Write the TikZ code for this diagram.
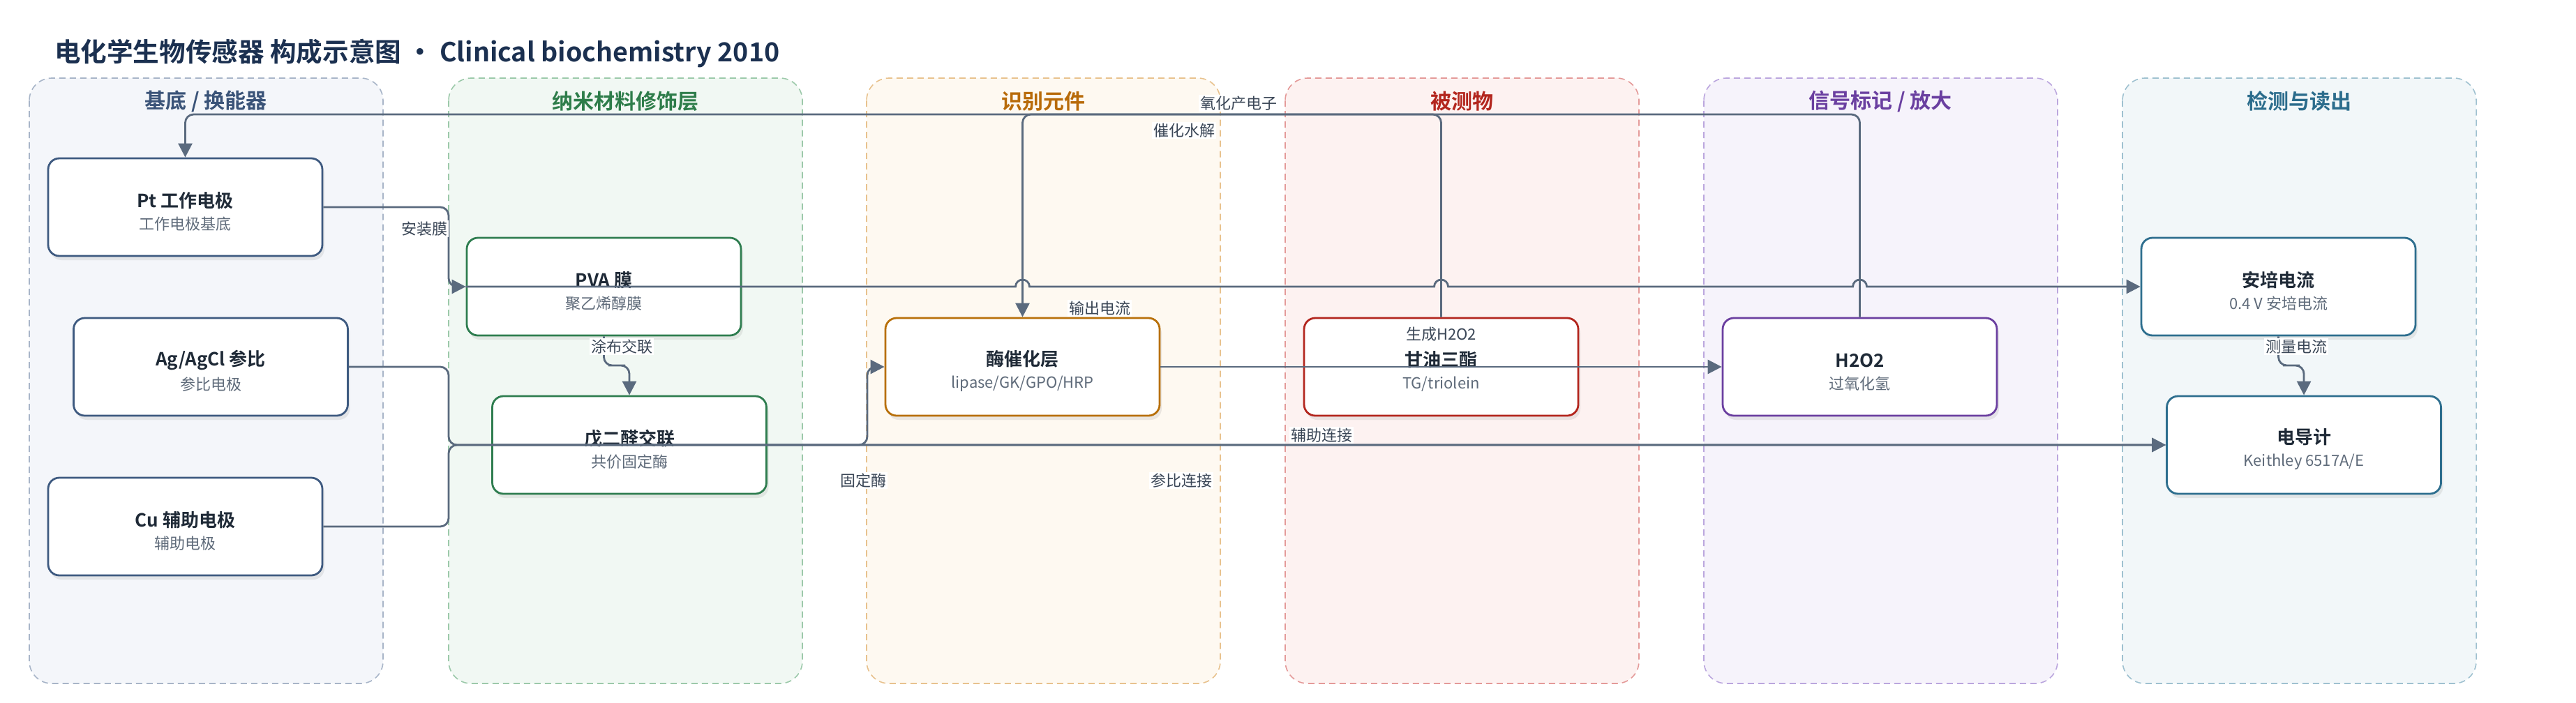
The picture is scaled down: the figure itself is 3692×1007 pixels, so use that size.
\documentclass[tikz,border=0pt]{standalone}
\usepackage{fontspec}
\setmainfont{Noto Sans CJK SC}[BoldFont={Noto Sans CJK SC Bold}]
\usetikzlibrary{arrows.meta,shadows}

\definecolor{ink}{HTML}{1B3050}
\definecolor{ttl}{HTML}{1F2A37}
\definecolor{sub}{HTML}{5F6B7A}
\definecolor{lblc}{HTML}{3A4656}
\definecolor{edgec}{HTML}{5A6A7E}
% lane fill / border / title
\definecolor{lf1}{HTML}{F4F6FA}\definecolor{ld1}{HTML}{A8B5C8}\definecolor{lt1}{HTML}{3A5378}
\definecolor{lf2}{HTML}{F1F8F3}\definecolor{ld2}{HTML}{9CC9AA}\definecolor{lt2}{HTML}{2E7D4A}
\definecolor{lf3}{HTML}{FEF9F1}\definecolor{ld3}{HTML}{E8C28E}\definecolor{lt3}{HTML}{B86B0A}
\definecolor{lf4}{HTML}{FDF2F1}\definecolor{ld4}{HTML}{E49A99}\definecolor{lt4}{HTML}{B3261E}
\definecolor{lf5}{HTML}{F6F3FB}\definecolor{ld5}{HTML}{BBA6DE}\definecolor{lt5}{HTML}{6A3FA0}
\definecolor{lf6}{HTML}{F2F7F9}\definecolor{ld6}{HTML}{9FC1D0}\definecolor{lt6}{HTML}{2B6C8C}
% node borders
\definecolor{nb1}{HTML}{3E5A80}
\definecolor{nb2}{HTML}{2E7D4F}
\definecolor{nb3}{HTML}{B8700A}
\definecolor{nb4}{HTML}{B3261E}
\definecolor{nb5}{HTML}{6B3FA0}
\definecolor{nb6}{HTML}{2D6E8E}

\newcommand\boxtext[2]{{\rule{0pt}{17pt}\bfseries\fontsize{13}{15}\selectfont\color{ttl}#1}\\[4pt]{\fontsize{11}{13}\selectfont\color{sub}#2}}

\begin{document}
\begin{tikzpicture}[x=0.5pt,y=-0.5pt,
  lane/.style={draw=#1,line width=0.8pt,dash pattern=on 4.5pt off 3pt,rounded corners=16pt},
  box/.style={draw=#1,line width=1.4pt,fill=white,rounded corners=8pt,
    minimum width=196.5pt,minimum height=70pt,align=center,
    drop shadow={shadow xshift=1.5pt,shadow yshift=-3pt,opacity=.15}},
  link/.style={draw=edgec,line width=1.4pt,rounded corners=6pt},
  tip/.style={-{Triangle[length=10pt,width=10pt]}},
  lbl/.style={fill=white,inner sep=1pt,text=lblc,font=\fontsize{11}{13}\selectfont}]
\useasboundingbox (0,0) rectangle (3692,1007);

% Title
\node[anchor=west,text=ink,font=\bfseries\fontsize{18.8}{22}\selectfont] (title) at (71,77)
  {电化学生物传感器 构成示意图 · Clinical biochemistry 2010};

% Lanes
\foreach \i/\x/\name in {1/42/{基底 / 换能器},2/643/{纳米材料修饰层},3/1242/{识别元件},
                         4/1842/{被测物},5/2442/{信号标记 / 放大},6/3042/{检测与读出}} {
  \draw[lane=ld\i,fill=lf\i] (\x,112) rectangle ++(507,868);
  \node[text=lt\i,font=\bfseries\fontsize{15}{18}\selectfont] (lane\i) at (\x+253,145) {\name};
}

% Nodes
\node[box=nb1] (pt)    at (265.5,297) {\boxtext{Pt 工作电极}{工作电极基底}};
\node[box=nb1] (agcl)  at (302,526)   {\boxtext{Ag/AgCl 参比}{参比电极}};
\node[box=nb1] (cu)    at (265.5,755) {\boxtext{Cu 辅助电极}{辅助电极}};
\node[box=nb2] (pva)   at (865.5,411) {\boxtext{PVA 膜}{聚乙烯醇膜}};
\node[box=nb2] (glut)  at (902,638)   {\boxtext{戊二醛交联}{共价固定酶}};
\node[box=nb3] (enz)   at (1465.5,526) {\boxtext{酶催化层}{lipase/GK/GPO/HRP}};
\node[box=nb4] (tg)    at (2065.5,526) {\boxtext{甘油三酯}{TG/triolein}};
\node[box=nb5] (hoo)   at (2665.5,526) {\boxtext{H2O2}{过氧化氢}};
\node[box=nb6] (amp)   at (3265.5,411) {\boxtext{安培电流}{0.4 V 安培电流}};
\node[box=nb6] (meter) at (3302,638)   {\boxtext{电导计}{Keithley 6517A/E}};

% Connectors
\draw[link,tip] (pt.east) -| (643,411) -- (pva.west);
\draw[link,tip] (pva.south) |- (884,524) -| (glut.north);
\draw[link,tip] (glut.west) -- (1243,638) |- (enz.west);
\draw[link,tip] (agcl.east) -| (643,638) -- (meter.west);
\draw[link,tip] (cu.east) -| (643,638) -- (meter.west);
\draw[link,tip] (enz.east) -- (hoo.west);
\draw[link,tip] (tg.north) -- (2065.5,164) -| (enz.north);
\draw[link,tip] (hoo.north) -- (2665.5,164) -| (pt.north);
\draw[link,tip] (amp.south) |- (3284,524) -| (meter.north);
% output current, hopping over the three verticals
\draw[link,tip,sharp corners] (pva.west) -- (1455.5,411) arc[start angle=180,end angle=360,radius=10]
  -- (2055.5,411) arc[start angle=180,end angle=360,radius=10]
  -- (2655.5,411) arc[start angle=180,end angle=360,radius=10] -- (amp.west);

% Connector labels
\node[lbl] (l-mount) at (608,328)   {安装膜};
\node[lbl] (l-coat)  at (891,497)   {涂布交联};
\node[lbl] (l-fix)   at (1237,689)  {固定酶};
\node[lbl] (l-ref)   at (1693,689)  {参比连接};
\node[lbl] (l-aux)   at (1894,624)  {辅助连接};
\node[lbl] (l-out)   at (1576,442)  {输出电流};
\node[lbl] (l-hyd)   at (1697,187)  {催化水解};
\node[lbl] (l-ox)    at (1775,148)  {氧化产电子};
\node[lbl] (l-gen)   at (2065.5,479) {生成H2O2};
\node[lbl] (l-meas)  at (3291,497)  {测量电流};

\end{tikzpicture}
\end{document}
